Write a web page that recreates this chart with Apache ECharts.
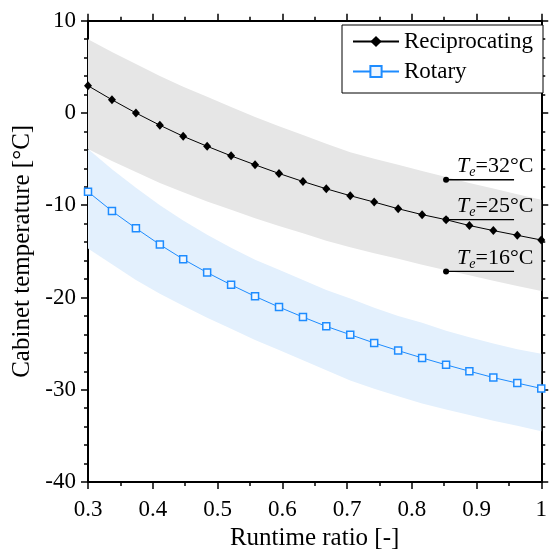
<!DOCTYPE html>
<html>
<head>
<meta charset="utf-8">
<script src="https://cdn.jsdelivr.net/npm/echarts@6/dist/echarts.min.js"></script>
<style>
html,body{margin:0;padding:0;background:#fff;}
#chart{width:550px;height:556px;}
</style>
</head>
<body>
<div id="chart"></div>
<script>
// Runtime ratio sample points
var runtime = [0.3, 0.337, 0.374, 0.411, 0.447, 0.484, 0.521, 0.558, 0.595, 0.632,
               0.668, 0.705, 0.742, 0.779, 0.816, 0.853, 0.889, 0.926, 0.963, 1.0];
// Reciprocating (Te = 25°C)
var recip = [2.95, 1.43, 0.0, -1.33, -2.53, -3.61, -4.65, -5.62, -6.56, -7.43,
             -8.22, -8.97, -9.66, -10.38, -11.02, -11.57, -12.2, -12.75, -13.26, -13.77];
// Reciprocating band: Te = 32°C (upper) and Te = 16°C (lower)
var recipUpper = [8.0, 6.6, 5.3, 4.0, 2.85, 1.75, 0.65, -0.45, -1.45, -2.4,
                  -3.35, -4.25, -4.95, -5.6, -6.3, -6.95, -7.6, -8.2, -8.8, -9.4];
var recipLower = [-3.9, -5.2, -6.4, -7.6, -8.6, -9.6, -10.5, -11.4, -12.25, -13.05,
                  -13.85, -14.55, -15.2, -15.8, -16.45, -17.05, -17.6, -18.2, -18.75, -19.3];
// Rotary (Te = 25°C)
var rotary = [-8.54, -10.63, -12.5, -14.27, -15.85, -17.3, -18.63, -19.88, -21.04, -22.12,
              -23.13, -24.03, -24.93, -25.76, -26.55, -27.3, -27.99, -28.68, -29.28, -29.86];
// Rotary band
var rotaryUpper = [-3.9, -6.1, -8.1, -10.0, -11.65, -13.2, -14.6, -15.9, -17.0, -18.1,
                   -19.2, -20.1, -21.1, -22.0, -22.75, -23.6, -24.3, -25.0, -25.6, -26.1];
var rotaryLower = [-14.7, -16.4, -18.1, -19.6, -20.9, -22.2, -23.4, -24.6, -25.7, -26.8,
                   -27.9, -29.0, -29.9, -30.7, -31.5, -32.15, -32.75, -33.35, -33.9, -34.5];
// Annotation markers (Te labels)
var teNames = ['32', '25', '16'];
var teY = [-7.24, -11.56, -17.18];
var teX = [0.853, 0.958];

var FONT = '"Liberation Serif", "Times New Roman", serif';

function pairs(ys) { return runtime.map(function (x, i) { return [x, ys[i]]; }); }

function bandSeries(name, upper, lower, color) {
  return {
    name: name, type: 'custom', silent: true, z: 1,
    data: runtime.map(function (x, i) { return [x, lower[i], upper[i]]; }),
    encode: { x: 0, y: [1, 2] },
    renderItem: function (params, api) {
      if (params.dataIndex !== 0) return null;
      var top = [], bot = [];
      for (var i = 0; i < runtime.length; i++) {
        top.push(api.coord([runtime[i], upper[i]]));
        bot.push(api.coord([runtime[i], lower[i]]));
      }
      return {
        type: 'polygon',
        shape: { points: top.concat(bot.reverse()) },
        style: { fill: color, stroke: null }
      };
    }
  };
}

var series = [
  bandSeries('recipBand', recipUpper, recipLower, '#e6e6e6'),
  bandSeries('rotBand', rotaryUpper, rotaryLower, '#e3f0fd'),
  { name: 'Reciprocating', type: 'line', data: pairs(recip), symbol: 'diamond', symbolSize: [8, 9],
    itemStyle: { color: '#000' }, lineStyle: { color: '#000', width: 1 }, z: 5 },
  { name: 'Rotary', type: 'line', data: pairs(rotary), symbol: 'rect', symbolSize: 7,
    itemStyle: { color: '#eef6ff', borderColor: '#1e8cff', borderWidth: 1.5 },
    lineStyle: { color: '#1e8cff', width: 1 }, z: 5 }
];

teY.forEach(function (y, k) {
  series.push({
    name: 'te' + k, type: 'line', data: [[teX[0], y], [teX[1], y]], symbol: 'none',
    lineStyle: { color: '#000', width: 1.3 }, silent: true, z: 6
  });
});
series.push({
  name: 'teDots', type: 'scatter', symbol: 'circle', symbolSize: 6,
  itemStyle: { color: '#000', opacity: 1 }, z: 7, silent: true,
  data: teY.map(function (y, k) { return { value: [teX[0], y], name: teNames[k] }; }),
  label: {
    show: true, position: [14, 3], align: 'left', verticalAlign: 'bottom',
    formatter: function (p) { return '{t|T}{e|e}{r|=' + p.name + '°C}'; },
    rich: {
      t: { fontFamily: FONT, fontStyle: 'italic', fontSize: 22, lineHeight: 27, color: '#000' },
      e: { fontFamily: FONT, fontStyle: 'italic', fontSize: 14, lineHeight: 14, verticalAlign: 'bottom', color: '#000' },
      r: { fontFamily: FONT, fontSize: 22, lineHeight: 27, color: '#000' }
    }
  }
});

var axisLineStyle = { onZero: false, lineStyle: { color: '#000', width: 2 } };
var tickStyle = { show: true, inside: false, length: 7, lineStyle: { color: '#000', width: 1.5 } };
var minorX = { show: true, splitNumber: 2, length: 4, lineStyle: { color: '#000', width: 1.5 } };
var minorY = { show: true, splitNumber: 5, length: 4, lineStyle: { color: '#000', width: 1.5 } };

var option = {
  animation: false,
  backgroundColor: '#fff',
  grid: { left: 88, right: 3.5, top: 20.7, bottom: 72.5, containLabel: false },
  legend: {
    data: ['Reciprocating', 'Rotary'], orient: 'vertical', left: 342, top: 25,
    itemWidth: 46, itemHeight: 14, itemGap: 7, padding: [5, 10, 10, 10],
    borderColor: '#000', borderWidth: 1, borderRadius: 0, backgroundColor: '#fff',
    textStyle: { fontFamily: FONT, fontSize: 23, lineHeight: 23, color: '#000' },
    selectedMode: false
  },
  xAxis: [{
    type: 'value', min: 0.3, max: 1, interval: 0.1,
    name: 'Runtime ratio [-]', nameLocation: 'middle', nameGap: 44,
    nameTextStyle: { fontFamily: FONT, fontSize: 25, color: '#000' },
    axisLine: axisLineStyle, axisTick: tickStyle, minorTick: minorX,
    splitLine: { show: false },
    axisLabel: { fontFamily: FONT, fontSize: 23, color: '#000', margin: 16,
      formatter: function (v) { return String(+v.toFixed(1)); } }
  }, {
    type: 'value', position: 'top', min: 0.3, max: 1, interval: 0.1,
    axisLine: axisLineStyle, axisTick: tickStyle, minorTick: minorX,
    splitLine: { show: false }, axisLabel: { show: false }
  }],
  yAxis: [{
    type: 'value', min: -40, max: 10, interval: 10,
    name: 'Cabinet temperature [°C]', nameLocation: 'middle', nameGap: 52,
    nameTextStyle: { fontFamily: FONT, fontSize: 25, color: '#000' },
    axisLine: axisLineStyle, axisTick: tickStyle, minorTick: minorY,
    splitLine: { show: false },
    axisLabel: { fontFamily: FONT, fontSize: 23, color: '#000', margin: 12 }
  }, {
    type: 'value', position: 'right', min: -40, max: 10, interval: 10,
    axisLine: axisLineStyle, axisTick: tickStyle, minorTick: minorY,
    splitLine: { show: false }, axisLabel: { show: false }
  }],
  series: series
};

var chart = echarts.init(document.getElementById('chart'), null, { renderer: 'canvas' });
chart.setOption(option);
</script>
</body>
</html>
